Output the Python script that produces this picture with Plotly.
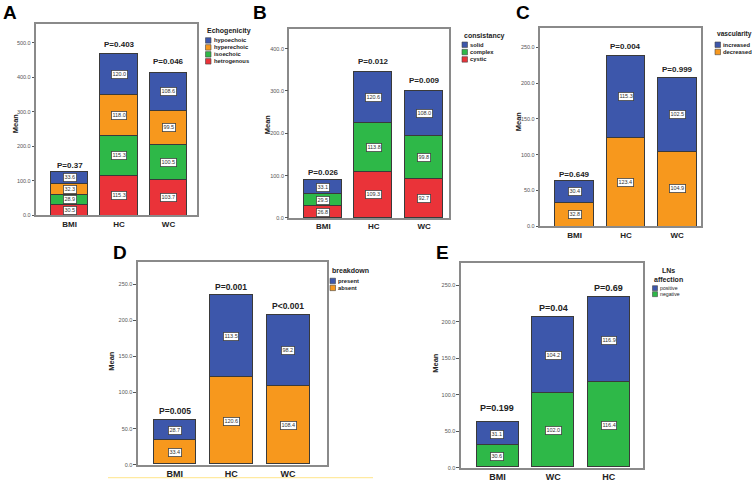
import plotly.graph_objects as go

W, H = 752, 483

# ---------------- data ----------------
A_categories = ["BMI", "HC", "WC"]
A_hetrogenous = [30.5, 115.3, 103.7]
A_isoechoic = [28.9, 115.3, 100.5]
A_hyperechoic = [32.3, 118.0, 99.5]
A_hypoechoic = [33.6, 120.0, 108.6]
A_pvalues = ["P=0.37", "P=0.403", "P=0.046"]

B_categories = ["BMI", "HC", "WC"]
B_cystic = [26.8, 109.3, 92.7]
B_complex = [29.5, 113.8, 99.8]
B_solid = [33.1, 120.6, 108.0]
B_pvalues = ["P=0.026", "P=0.012", "P=0.009"]

C_categories = ["BMI", "HC", "WC"]
C_decreased = [32.8, 123.4, 104.9]
C_increased = [30.4, 115.3, 102.5]
C_pvalues = ["P=0.649", "P=0.004", "P=0.999"]

D_categories = ["BMI", "HC", "WC"]
D_absent = [33.4, 120.6, 108.4]
D_present = [28.7, 113.5, 98.2]
D_pvalues = ["P=0.005", "P=0.001", "P<0.001"]

E_categories = ["BMI", "WC", "HC"]
E_negative = [30.6, 102.0, 116.4]
E_positive = [31.1, 104.2, 116.9]
E_pvalues = ["P=0.199", "P=0.04", "P=0.69"]

# ---------------- styles ----------------
BLUE = "#3D57AB"
ORANGE = "#F7981D"
GREEN = "#2EB848"
RED = "#EA3339"
FONT = "Liberation Sans, Arial, sans-serif"

def px(x):
    return x / W

def py(y):
    return 1 - y / H

panels = [
    dict(letter="A", cats=A_categories,
         series=[("hetrogenous", A_hetrogenous, RED), ("isoechoic", A_isoechoic, GREEN),
                 ("hyperechoic", A_hyperechoic, ORANGE), ("hypoechoic", A_hypoechoic, BLUE)],
         pvals=A_pvalues, ltitle="Echogenicity", ltfs=7,
         box=(36, 196.7, 24, 216.7), xr=[-0.68, 2.57], yr=[0, 555], dtick=100,
         letter_pos=(10, 12.5), mean_pos=(15, 124), leg=(205, 31, 40.7, 7), pfs=8, xfs=8,
         pshift=[7, 9, 12]),
    dict(letter="B", cats=B_categories,
         series=[("cystic", B_cystic, RED), ("complex", B_complex, GREEN), ("solid", B_solid, BLUE)],
         pvals=B_pvalues, ltitle="consistancy", ltfs=7,
         box=(289.3, 449.3, 29.3, 219.3), xr=[-0.675, 2.5], yr=[0, 446], dtick=100,
         letter_pos=(260, 13), mean_pos=(267, 125), leg=(461.5, 36, 45, 7.4), pfs=8, xfs=8,
         pshift=[8, 10.5, 10.5]),
    dict(letter="C", cats=C_categories,
         series=[("decreased", C_decreased, ORANGE), ("increased", C_increased, BLUE)],
         pvals=C_pvalues, ltitle="vascularity", ltfs=6.6,
         box=(540, 701, 27.7, 227.6), xr=[-0.676, 2.464], yr=[0, 277.6], dtick=50,
         letter_pos=(523, 12.5), mean_pos=(518, 122), leg=(714.5, 34.3, 45, 7.3), pfs=8, xfs=8,
         pshift=[6.5, 8.5, 8.5]),
    dict(letter="D", cats=D_categories,
         series=[("absent", D_absent, ORANGE), ("present", D_present, BLUE)],
         pvals=D_pvalues, ltitle="breakdown", ltfs=7,
         box=(137.7, 326.7, 264, 467.7), xr=[-0.653, 2.683], yr=[0, 280], dtick=50,
         letter_pos=(120, 254), mean_pos=(112, 363), leg=(329.5, 271.7, 282.7, 7), pfs=8.5, xfs=9,
         pshift=[9, 8.5, 9]),
    dict(letter="E", cats=E_categories,
         series=[("negative", E_negative, GREEN), ("positive", E_positive, BLUE)],
         pvals=E_pvalues, ltitle="LNs<br>affection", ltfs=7,
         box=(460.7, 642.7, 265, 470.7), xr=[-0.661, 2.609], yr=[0, 280], dtick=50,
         letter_pos=(442, 254), mean_pos=(436, 365), leg=(668, 276.5, 290, 6), pfs=9, xfs=9,
         pshift=[14.5, 9, 9]),
]

fig = go.Figure()
annotations = []
shapes = []

def paper_text(x, y, text, size, xanchor="center", bold=False, angle=0, color="#222", align="center"):
    return dict(x=px(x), y=py(y), xref="paper", yref="paper",
                text=f"<b>{text}</b>" if bold else text, showarrow=False,
                xanchor=xanchor, yanchor="middle", textangle=angle, align=align,
                font=dict(family=FONT, size=size, color=color))

for i, p in enumerate(panels):
    n = "" if i == 0 else str(i + 1)
    xa, ya = "x" + n, "y" + n
    x0, x1, y0, y1 = p["box"]
    totals = [0.0] * len(p["cats"])
    for sname, vals, col in p["series"]:
        fig.add_trace(go.Bar(
            x=p["cats"], y=vals, name=sname, xaxis=xa, yaxis=ya,
            marker=dict(color=col, line=dict(color="#3a3a3a", width=1)),
            width=0.755, showlegend=False, hoverinfo="x+y+name"))
        for k, (c, v) in enumerate(zip(p["cats"], vals)):
            annotations.append(dict(
                x=c, y=totals[k] + v / 2, xref=xa, yref=ya, text=f"{v:.1f}",
                showarrow=False, xanchor="center", yanchor="middle",
                font=dict(family=FONT, size=5.5, color="#333"),
                bgcolor="white", bordercolor="#444", borderwidth=0.8, borderpad=0.6))
            totals[k] += v
    for k, c in enumerate(p["cats"]):
        annotations.append(dict(
            x=c, y=totals[k], xref=xa, yref=ya, text=f"<b>{p['pvals'][k]}</b>",
            showarrow=False, xanchor="center", yanchor="middle", yshift=p["pshift"][k],
            font=dict(family=FONT, size=p["pfs"], color="#222")))

    axx = dict(domain=[px(x0), px(x1)], anchor=ya, range=p["xr"], type="category",
               showline=True, mirror=True, linecolor="#8a8a8a", linewidth=1.5,
               ticks="", showgrid=False, zeroline=False,
               tickfont=dict(family=FONT, size=p["xfs"], color="#222", weight="bold"))
    axy = dict(domain=[py(y1), py(y0)], anchor=xa, range=p["yr"], dtick=p["dtick"],
               tick0=0, tickformat=".1f", showline=True, mirror=True,
               linecolor="#8a8a8a", linewidth=1.5, ticks="outside", ticklen=2.5,
               tickcolor="#555", tickwidth=0.8, showgrid=False, zeroline=False,
               tickfont=dict(family=FONT, size=5.5, color="#555"))
    fig.layout["xaxis" + n] = axx
    fig.layout["yaxis" + n] = axy

    lx, ly = p["letter_pos"]
    annotations.append(paper_text(lx, ly, p["letter"], 19, bold=True, color="black"))
    mx, my = p["mean_pos"]
    annotations.append(paper_text(mx, my, "Mean", 7.5, bold=True, angle=-90))

    gx, gty, gy0, gstep = p["leg"]
    if p["letter"] == "E":
        annotations.append(paper_text(gx, gty, p["ltitle"], p["ltfs"], bold=True))
        sx, sw, ifs, ibold = 652.5, 5, 5.2, False
    else:
        annotations.append(paper_text(gx, gty, p["ltitle"], p["ltfs"], xanchor="left", bold=True))
        sx, sw, ifs, ibold = gx + 0.5, 5.5, 5.8, True
    for j, (sname, vals, col) in enumerate(reversed(p["series"])):
        yy = gy0 + j * gstep
        shapes.append(dict(type="rect", xref="paper", yref="paper",
                           x0=px(sx), x1=px(sx + sw), y0=py(yy + sw / 2), y1=py(yy - sw / 2),
                           fillcolor=col, line=dict(color="#444", width=0.6)))
        annotations.append(paper_text(sx + sw + 0.8, yy, sname, ifs, xanchor="left", bold=ibold))

# thin yellow rule under panel D
shapes.append(dict(type="line", xref="paper", yref="paper",
                   x0=px(108), x1=px(373), y0=py(480.7), y1=py(480.7),
                   line=dict(color="#FFE58A", width=1)))

fig.update_layout(
    width=W, height=H, margin=dict(l=0, r=0, t=0, b=0),
    paper_bgcolor="white", plot_bgcolor="white", barmode="stack", bargap=0,
    showlegend=False, annotations=annotations, shapes=shapes,
    font=dict(family=FONT),
)

fig.write_html(
    "out.html",
    config={"displayModeBar": False},
    post_script="document.body.style.margin='0';document.body.style.overflow='hidden';",
)
